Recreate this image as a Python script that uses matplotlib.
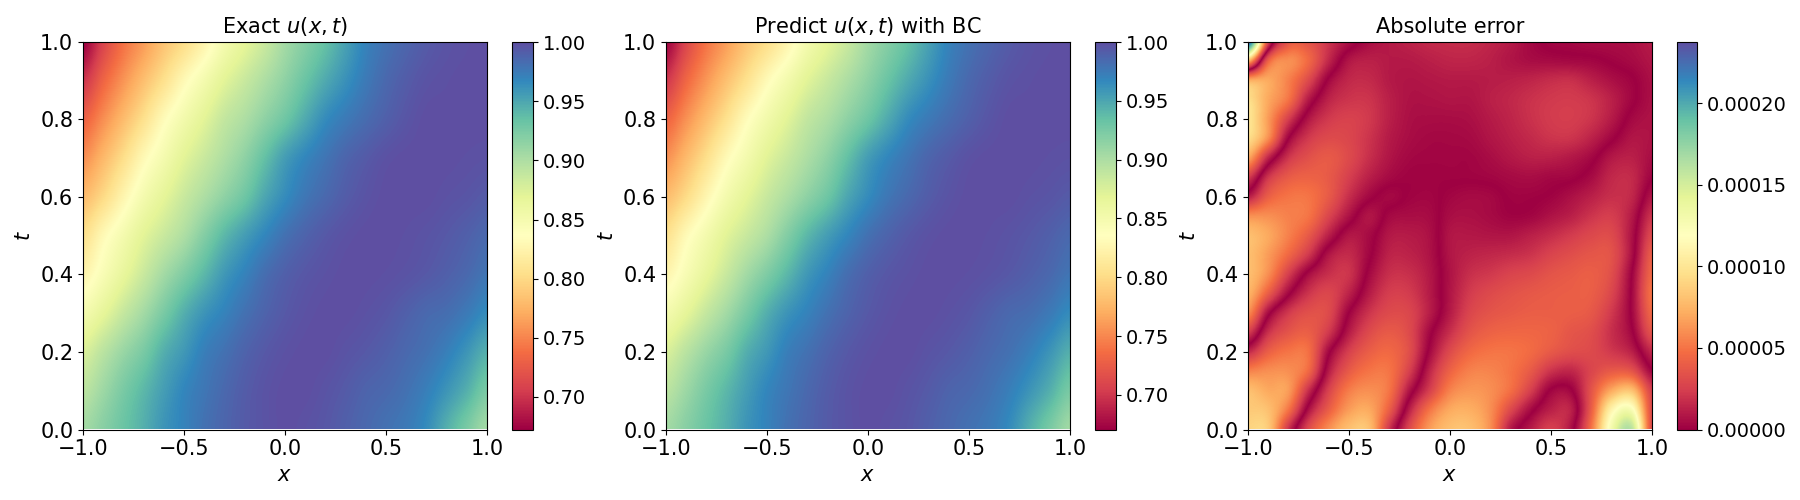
import numpy as np
import matplotlib
matplotlib.use("Agg")
import matplotlib.pyplot as plt
from matplotlib.colors import Normalize, ListedColormap
from matplotlib.cm import ScalarMappable

titles = [r"Exact $u(x,t)$", r"Predict $u(x,t)$ with BC", "Absolute error"]
x_ticks = [-1.0, -0.5, 0.0, 0.5, 1.0]
t_ticks = [0.0, 0.2, 0.4, 0.6, 0.8, 1.0]

# u(x,t); rows t = 0.0, 0.1 ... 1.0, columns x = -1.0, -0.9 ... 1.0
exact_u = [
 [.905,.918,.932,.945,.960,.970,.980,.987,.993,.997,1.0,.998,.995,.990,.985,.980,.975,.965,.945,.925,.905],
 [.892,.908,.925,.940,.955,.968,.977,.985,.992,.997,1.0,1.0,.997,.993,.988,.985,.980,.972,.960,.945,.925],
 [.875,.893,.910,.925,.945,.958,.972,.980,.988,.994,.998,1.0,1.0,.997,.994,.990,.985,.980,.972,.960,.945],
 [.850,.867,.887,.905,.925,.945,.960,.970,.980,.988,.994,.998,1.0,1.0,.998,.995,.990,.985,.982,.975,.965],
 [.825,.845,.865,.885,.905,.922,.940,.958,.970,.982,.990,.995,.998,1.0,1.0,.999,.997,.994,.990,.985,.978],
 [.805,.830,.850,.870,.885,.900,.920,.940,.955,.968,.980,.988,.994,.998,1.0,1.0,.999,.997,.994,.990,.985],
 [.780,.800,.826,.850,.868,.885,.900,.915,.930,.950,.965,.977,.985,.992,.997,1.0,1.0,1.0,.998,.996,.993],
 [.755,.778,.803,.830,.850,.870,.885,.900,.915,.935,.955,.968,.978,.987,.993,.998,1.0,1.0,1.0,.999,.998],
 [.730,.755,.780,.805,.832,.852,.870,.888,.900,.915,.930,.948,.965,.975,.983,.990,.996,1.0,1.0,1.0,1.0],
 [.700,.732,.758,.782,.805,.830,.850,.870,.885,.900,.915,.932,.948,.962,.975,.985,.992,.997,.999,1.0,1.0],
 [.672,.710,.740,.762,.785,.803,.825,.850,.868,.885,.905,.920,.935,.953,.970,.980,.987,.993,.997,.999,1.0],
]
predict_u = exact_u  # the two panels do not differ visibly at this colour scale

# error in units of 1e-5, signed so that the dark valleys are
# zero crossings; rows t = 0.0, 0.05 ... 1.0, columns x = -1.0, -0.9 ... 1.0
error_signed = [
 [-9,-8.5,-2,3,6,8,8,2,-3,-6.5,-8,-8,-6,-1,1,2.5,.6,-5,-13,-16,-3],
 [-8.5,-8,-5,.6,4,6.5,7,4,-1.2,-5,-7,-7.2,-6,-3,-.4,1.2,1.2,-4,-11,-12.5,-3],
 [-8,-7,-6.5,-1.8,2.6,5.3,6,5,.8,-2.5,-5.5,-6.3,-6,-4.8,-2.5,.1,.1,-3.5,-7,-8,-2.5],
 [-5.5,-6,-6,-4.5,1,3.8,5,5,2.5,-1.4,-4.2,-5.5,-5.6,-5,-3.8,-2,-1.5,-2.8,-3.8,-3.5,-.2],
 [-1.5,-4,-5,-4.8,-.3,2.5,4,4.5,3.2,-.3,-3,-4.5,-5,-5,-4.6,-3.8,-3.2,-3,-2.2,-1.2,1.5],
 [2.5,-1.8,-3.5,-4,-2.2,1,3,3.8,3,.3,-1.8,-3.5,-4.2,-4.4,-4.4,-4.2,-3.6,-3.2,-1.8,-.2,3.5],
 [6,.5,-2.2,-3.3,-3,0,2,3,2.8,1.1,-1,-2.8,-3.5,-3.8,-4,-4,-4,-3.7,-2.2,.2,4.5],
 [7.5,4,.3,-2,-2.8,-1.3,1,2.4,2.3,1,-.8,-2.3,-3,-3.4,-3.7,-3.9,-4,-4,-2.8,.2,5],
 [8,6,2.5,-.4,-1.8,-2,.3,1.8,1.8,.9,-.7,-1.8,-2.2,-2.7,-3,-3.5,-3.8,-4,-3.2,0,4.5],
 [8,6.5,4.5,2.2,-.8,-1.6,-.2,1.3,1.3,.7,-.8,-1.3,-1.5,-1.7,-2,-2.7,-3.2,-3.6,-3.4,-.6,4],
 [8,7,5.5,3.8,1.2,-.8,-.4,.9,1,.6,-.8,-.9,-.8,-.8,-1.2,-1.7,-2.3,-2.9,-3,-.7,3],
 [6,6,5.5,5,2.8,.7,-.8,.3,.5,.4,-.5,-.6,-.4,-.1,-.2,-.7,-1.2,-2,-2.4,-1,2],
 [1,4,5,5,3.8,1.8,.3,-.3,.1,.2,-.2,-.4,-.3,.1,.1,-.1,-.6,-1.2,-1.8,-1.5,.8],
 [-2.5,2,3.8,4.2,3.8,2.5,1.2,.4,.1,.1,.1,.1,.2,.4,.5,.3,.2,-.4,-1.5,-1.6,-.1],
 [-7,-1.5,2,3.3,3.8,3,1.8,.8,.3,.2,.2,.2,.5,.9,1.2,1.2,.9,.3,-.9,-1.2,-.5],
 [-9.5,-6,-.1,2.2,3,2.8,2,1,.5,.3,.3,.4,.8,1.2,1.6,2,2,1.3,.2,-.8,-.7],
 [-10,-6.5,-2.5,.8,2.2,2.6,2.2,1.2,.6,.5,.5,.6,1,1.4,1.9,2.3,2.4,2,1,-.3,-.7],
 [-9.5,-7,-5,-1,1.3,2,2,1.2,.7,.7,.8,.8,1.2,1.5,1.9,2.2,2.3,2,1.2,.2,-.6],
 [-7,-7,-5.5,-3,.2,1.5,1.6,1,.8,.9,1,1,1.1,1.2,1.4,1.7,1.8,1.2,.6,.1,-.6],
 [8,-4,-6,-4.5,-1.5,.8,1.2,1,1,1.2,1.4,1.4,1.2,.8,.5,.4,.3,.2,-.1,-.4,-.8],
 [24,3,-3.5,-3.5,-2,-.6,.5,1,1.3,1.6,1.7,1.7,1.4,1,.3,-.2,-.3,-.5,-.5,-.6,-1],
]
error_scale = 1e-5

u_ranges = [(0.6725, 1.0005), (0.6705, 1.0005)]
cb1_ticks = [0.70, 0.75, 0.80, 0.85, 0.90, 0.95, 1.00]
cb3_ticks = [0.0, 0.00005, 0.00010, 0.00015, 0.00020]
error_max = 0.000238

W, H = 1800, 500
ax_boxes = [(83, 487), (666, 1070), (1248, 1652)]
cb_boxes = [(512, 533), (1095, 1116), (1677, 1697)]
TOP, BOTTOM = 41.5, 429.5


def box(l, r):
    return [l / W, 1 - BOTTOM / H, (r - l) / W, (BOTTOM - TOP) / H]


def edges(vals):
    step = vals[1] - vals[0]
    return (vals[0] - step / 2, vals[-1] + step / 2)


fig = plt.figure(figsize=(18, 5), dpi=100)
spectral = plt.get_cmap("Spectral")
# mirrored map: a signed value shows as its absolute value on Spectral
mirror = ListedColormap(spectral(np.abs(np.linspace(-1, 1, 1023))))

panels = [np.array(exact_u), np.array(predict_u), np.array(error_signed) * error_scale]
for i, data in enumerate(panels):
    ax = fig.add_axes(box(*ax_boxes[i]))
    xs = np.linspace(-1, 1, data.shape[1])
    ts = np.linspace(0, 1, data.shape[0])
    if i < 2:
        cmap, norm = spectral, Normalize(*u_ranges[i])
        ax.imshow(data, origin="lower", aspect="auto", cmap=cmap, norm=norm,
                  extent=(*edges(xs), *edges(ts)), interpolation="catrom",
                  interpolation_stage="data")
        sm = ScalarMappable(norm=norm, cmap=spectral)
        ticks = cb1_ticks
    else:
        ax.imshow(data, origin="lower", aspect="auto", cmap=mirror,
                  norm=Normalize(-error_max, error_max),
                  extent=(*edges(xs), *edges(ts)), interpolation="catrom",
                  interpolation_stage="data")
        sm = ScalarMappable(norm=Normalize(0, error_max), cmap=spectral)
        ticks = cb3_ticks
    ax.set_xlim(-1, 1)
    ax.set_ylim(0, 1)
    ax.set_xticks(x_ticks)
    ax.set_yticks(t_ticks)
    ax.tick_params(labelsize=15)
    ax.set_xlabel(r"$x$", fontsize=15)
    ax.set_ylabel(r"$t$", fontsize=15)
    ax.set_title(titles[i], fontsize=15)
    cax = fig.add_axes(box(*cb_boxes[i]))
    cb = fig.colorbar(sm, cax=cax, ticks=ticks)
    cb.ax.tick_params(labelsize=14)
    if i == 2:
        cb.ax.set_yticklabels(["0.00000", "0.00005", "0.00010", "0.00015", "0.00020"])

fig.savefig("out.png", dpi=100)
